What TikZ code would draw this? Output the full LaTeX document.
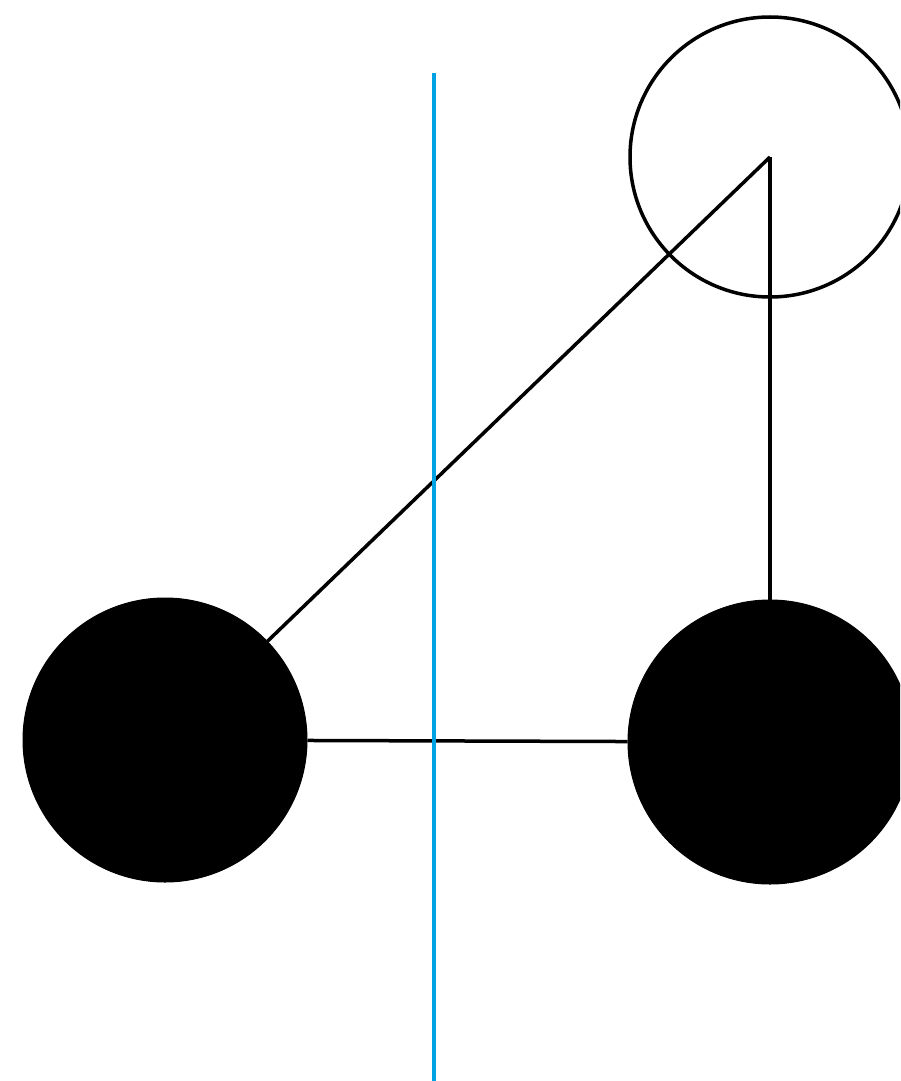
\documentclass[tikz,border=0pt]{standalone}
\definecolor{axisblue}{RGB}{0,162,228}
\begin{document}
\begin{tikzpicture}[x=1pt,y=-1pt,
  edge/.style={line width=3.5pt,black},
  ball/.style={circle,fill=black,draw=black,line width=1pt,minimum size=284pt,inner sep=0pt},
  ring/.style={circle,draw=black,line width=3.5pt,minimum size=280pt,inner sep=0pt},
  axis/.style={line width=4.5pt,axisblue}]
\useasboundingbox (0,0) rectangle (900,1081);
\begin{scope}
\clip (0,0) rectangle (900,1081);
\node[ring] (t) at (770,157) {};
\node[ball] (l) at (165,740) {};
\node[ball] (r) at (770,742) {};
\draw[edge] (t.center) -- (l);
\draw[edge] (t.center) -- (r);
\draw[edge] (l) -- (r);
\coordinate (a1) at (434,73);
\coordinate (a2) at (434,1090);
\draw[axis] (a1) -- (a2);
\end{scope}
\end{tikzpicture}
\end{document}
